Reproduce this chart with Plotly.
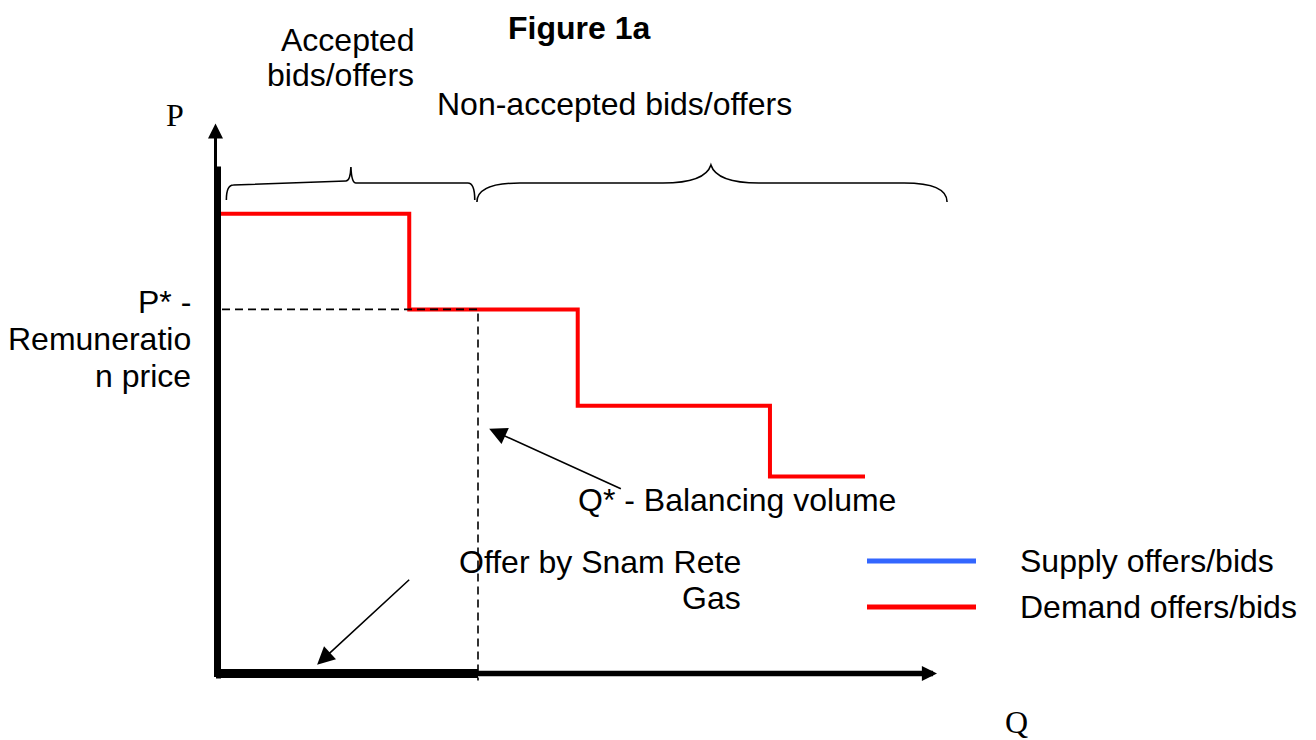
import plotly.graph_objects as go

# ---- data (chart units: both axes run 0..100 from the origin to the arrow tips)
demand_q = [0, 26.7, 50.1, 76.8, 90.0]
demand_p = [83.6, 66.2, 48.7, 35.8, 35.8]

q_star = 36.25   # balancing volume
p_star = 66.2    # remuneration price

snam_q = [0, q_star]
snam_p = [0, 0]

# braces over the chart: start, tip, end (in Q units)
brace_accepted = [1.3, 18.6, 35.8]
brace_rejected = [36.1, 68.6, 101.4]

legend_labels = ["Supply offers/bids", "Demand offers/bids"]
legend_colors = ["#3366ff", "#ff0000"]

# ---- page geometry
W, H = 1316, 740
OFF = 8                  # default body margin of the html page
X0, Y0 = 217, 673.5      # origin of the diagram on the page (px)
KX, KY = 7.2, 5.5        # px per chart unit

FONT = "Liberation Sans, Arial, sans-serif"
SERIF = "Liberation Serif, Times New Roman, serif"
FS = 32


def dq(px):
    return px / KX


def dp(px):
    return px / KY


def to_data(px, py):
    return (px - X0) / KX, (Y0 - py) / KY


def px_x(q):
    return X0 + q * KX


def paper(px, py):
    return (px - OFF) / W, 1 - (py - OFF) / H


def brace_path(span, y_end, y_base, y_tip, r, r2, tilt=0.0):
    """Curly brace drawn as an svg path in data coords."""
    x0, xt, x1 = [px_x(v) for v in span]
    yl0 = y_base + tilt / 2
    yl1 = y_base - tilt / 2
    pts = [
        ("M", [(x0, y_end)]),
        ("Q", [(x0, yl0), (x0 + r, yl0)]),
        ("L", [(xt - r2, yl1)]),
        ("Q", [(xt - 0.12 * r2, yl1), (xt, y_tip)]),
        ("Q", [(xt + 0.12 * r2, y_base), (xt + r2, y_base)]),
        ("L", [(x1 - r, y_base)]),
        ("Q", [(x1, y_base), (x1, y_end)]),
    ]
    out = ""
    for cmd, plist in pts:
        out += cmd + " ".join("%.3f,%.3f" % to_data(a, b) for a, b in plist) + " "
    return out.strip()


fig = go.Figure()

# demand step curve
fig.add_trace(go.Scatter(
    x=demand_q, y=demand_p, mode="lines", line_shape="hv",
    line=dict(color="#ff0000", width=4), showlegend=False, hoverinfo="skip"
))

# dashed guides to P* and Q*
fig.add_trace(go.Scatter(
    x=[dq(5), q_star, q_star], y=[p_star, p_star, dp(-7)], mode="lines",
    line=dict(color="black", width=1.6, dash="8px,5px"),
    showlegend=False, hoverinfo="skip"
))

# thick part of the vertical axis
fig.add_trace(go.Scatter(
    x=[dq(1.5), dq(1.5)], y=[dp(-5), dp(507)], mode="lines",
    line=dict(color="black", width=5), showlegend=False, hoverinfo="skip"
))

# offer by Snam Rete Gas (thick black bar on Q axis)
fig.add_trace(go.Scatter(
    x=snam_q, y=snam_p, mode="lines",
    line=dict(color="black", width=9), showlegend=False, hoverinfo="skip"
))

arrows = [
    # axes
    dict(x=dq(-1.5), y=100, ax=dq(-1.5), ay=dp(-5), arrowwidth=3, arrowsize=1),
    dict(x=100, y=0, ax=0, ay=0, arrowwidth=5.5, arrowsize=0.55),
    # pointers
    dict(x=37.8, y=44.5, ax=56.3, ay=33.45, arrowwidth=1.6, arrowsize=2.2),
    dict(x=13.9, y=1.6, ax=26.9, ay=17.3, arrowwidth=1.6, arrowsize=2.2),
]
for a in arrows:
    fig.add_annotation(
        xref="x", yref="y", axref="x", ayref="y", text="", showarrow=True,
        arrowhead=2, arrowcolor="black", standoff=0, startstandoff=0, **a
    )

# braces
fig.add_shape(type="path", xref="x", yref="y",
              path=brace_path(brace_accepted, 200, 183, 167, 7, 5, tilt=4),
              line=dict(color="black", width=1.6))
fig.add_shape(type="path", xref="x", yref="y",
              path=brace_path(brace_rejected, 202, 183, 165, 43, 48),
              line=dict(color="black", width=1.6))

# legend keys
for i, (lab, col) in enumerate(zip(legend_labels, legend_colors)):
    ly = 561 + 46 * i
    x0p, yp = paper(867, ly)
    x1p, _ = paper(976, ly)
    fig.add_shape(type="line", xref="paper", yref="paper",
                  x0=x0p, x1=x1p, y0=yp, y1=yp,
                  line=dict(color=col, width=5))
    tx, ty = paper(1018, ly)
    fig.add_annotation(xref="paper", yref="paper", x=tx, y=ty,
                       text=lab, showarrow=False, xanchor="left", yanchor="middle",
                       font=dict(family=FONT, size=FS, color="black"))

# texts: (text, x px, y px, anchor, font)
texts = [
    ("<b>Figure 1a</b>", 579, 28, "center", FONT),
    ("Accepted", 415, 40, "right", FONT),
    ("bids/offers", 415, 75, "right", FONT),
    ("Non-accepted bids/offers", 436, 104, "left", FONT),
    ("P", 165, 115, "left", SERIF),
    ("P* -", 192, 302, "right", FONT),
    ("Remuneratio", 192, 339, "right", FONT),
    ("n price", 192, 376, "right", FONT),
    ("Q* - Balancing volume", 577, 500, "left", FONT),
    ("Offer by Snam Rete", 742, 562, "right", FONT),
    ("Gas", 742, 598, "right", FONT),
    ("Q", 1004, 722, "left", SERIF),
]
for t, x, y, anc, fam in texts:
    px, py = paper(x, y)
    fig.add_annotation(xref="paper", yref="paper", x=px, y=py,
                       text=t, showarrow=False, xanchor=anc, yanchor="middle",
                       borderpad=0,
                       font=dict(family=fam, size=FS, color="black"))

fig.update_layout(
    width=W, height=H,
    margin=dict(l=0, r=0, t=0, b=0, autoexpand=False),
    paper_bgcolor="white", plot_bgcolor="white",
    xaxis=dict(range=[(OFF - X0) / KX, (OFF + W - X0) / KX],
               visible=False, fixedrange=True),
    yaxis=dict(range=[(Y0 - OFF - H) / KY, (Y0 - OFF) / KY],
               visible=False, fixedrange=True),
    showlegend=False,
)

fig.write_html("out.html")
